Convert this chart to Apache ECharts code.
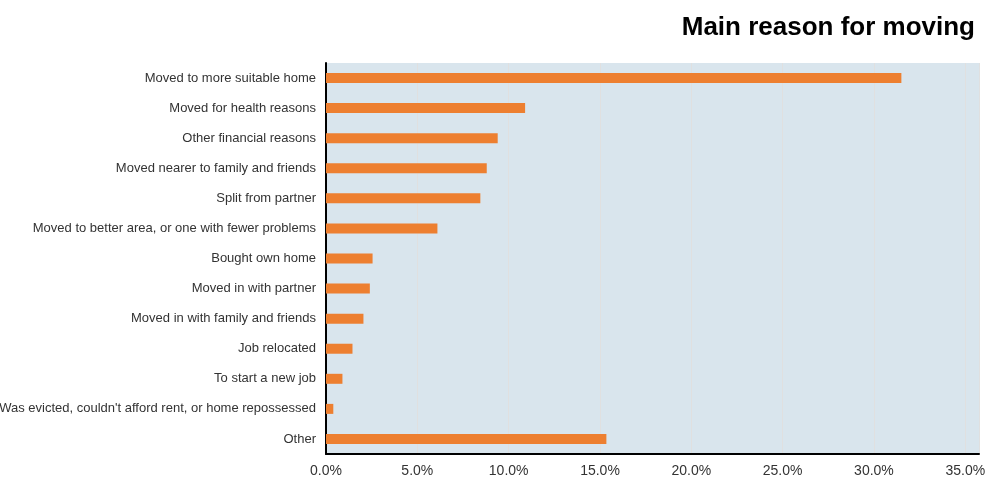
<!DOCTYPE html>
<html>
<head>
<meta charset="utf-8">
<script src="https://cdn.jsdelivr.net/npm/echarts@6/dist/echarts.min.js"></script>
<style>
  html, body { margin: 0; padding: 0; background: #fff; }
  #chart { width: 1000px; height: 477px; }
</style>
</head>
<body>
<div id="chart"></div>
<script>
// categories, top to bottom
var reasons = [
    "Moved to more suitable home",
    "Moved for health reasons",
    "Other financial reasons",
    "Moved nearer to family and friends",
    "Split from partner",
    "Moved to better area, or one with fewer problems",
    "Bought own home",
    "Moved in with partner",
    "Moved in with family and friends",
    "Job relocated",
    "To start a new job",
    "Was evicted, couldn't afford rent, or home repossessed",
    "Other"
];
// share of movers, percent
var shares = [31.5, 10.9, 9.4, 8.8, 8.45, 6.1, 2.55, 2.4, 2.05, 1.45, 0.9, 0.4, 15.35];
var xTicks = [0, 5, 10, 15, 20, 25, 30, 35];

var chart = echarts.init(document.getElementById("chart"));

var option = {
    animation: false,
    title: {
        text: "Main reason for moving",
        right: 20,
        top: 10,
        textStyle: {
            fontFamily: "Liberation Sans",
            fontSize: 26,
            fontWeight: "bold",
            color: "#000"
        }
    },
    grid: {
        left: 326,
        right: 21,
        top: 63,
        bottom: 23,
        outerBoundsMode: "none",
        containLabel: false,
        show: true,
        backgroundColor: "#d9e5ed",
        borderWidth: 0
    },
    xAxis: {
        type: "value",
        min: xTicks[0],
        max: 35.75,
        interval: 5,
        axisLine: { show: true, lineStyle: { color: "#000", width: 2 } },
        axisTick: { show: false },
        splitLine: { show: true, lineStyle: { color: "#e0e0e0", width: 1 } },
        axisLabel: {
            showMaxLabel: false,
            margin: 10,
            fontFamily: "Liberation Sans",
            fontSize: 14,
            color: "#333",
            formatter: function (v) { return v.toFixed(1) + "%"; }
        }
    },
    yAxis: {
        type: "category",
        inverse: true,
        data: reasons,
        axisLine: { show: true, onZero: false, lineStyle: { color: "#000", width: 2 } },
        axisTick: { show: false },
        axisLabel: {
            margin: 10,
            fontFamily: "Liberation Sans",
            fontSize: 13,
            color: "#333",
            padding: [3, 0, 0, 0]
        }
    },
    series: [
        {
            type: "bar",
            data: shares,
            barWidth: 10,
            itemStyle: { color: "#ed7f30" }
        }
    ]
};

chart.setOption(option);
</script>
</body>
</html>
